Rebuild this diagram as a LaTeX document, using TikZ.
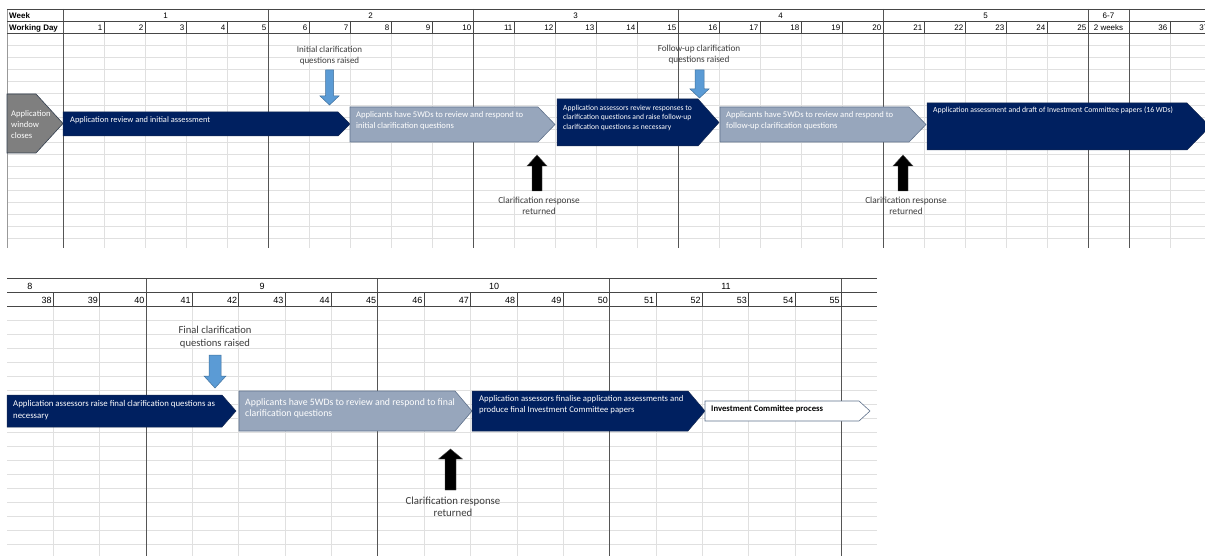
\documentclass[tikz,border=0pt]{standalone}
\usepackage{fontspec}
\setmainfont{Carlito}
\newfontfamily\arialf{Liberation Sans}
\definecolor{navy}{RGB}{0,32,96}
\definecolor{navyedge}{RGB}{20,40,80}
\definecolor{slate}{RGB}{151,166,188}
\definecolor{slateedge}{RGB}{96,114,140}
\definecolor{gchev}{RGB}{127,127,127}
\definecolor{gchevedge}{RGB}{50,62,78}
\definecolor{blueA}{RGB}{91,155,213}
\definecolor{blueedge}{RGB}{65,113,156}
\definecolor{gridc}{RGB}{224,224,224}
\definecolor{weekc}{RGB}{85,85,85}
\definecolor{hdrc}{RGB}{70,70,70}
\definecolor{labc}{RGB}{60,60,60}
\tikzset{
  gridln/.style={draw=gridc, line width=0.7pt},
  weekln/.style={draw=weekc, line width=0.8pt},
  hdrln/.style={draw=hdrc, line width=0.7pt},
  edgeln/.style={draw=gray!80, line width=0.7pt},
  navyshape/.style={fill=navy, draw=navyedge, line width=0.5pt},
  slateshape/.style={fill=slate, draw=slateedge, line width=0.6pt},
  grayshape/.style={fill=gchev, draw=gchevedge, line width=0.6pt},
  whiteshape/.style={fill=white, draw=slateedge, line width=0.6pt},
  bluearr/.style={fill=blueA, draw=blueedge, line width=0.5pt},
  blackarr/.style={fill=black, draw=gray!60!black, line width=0.4pt},
  wtxt/.style={text=white, inner sep=0pt, align=left},
  labtxt/.style={text=labc, inner sep=0pt, align=center, anchor=north},
  hdrtxt/.style={text=black, inner sep=0pt, font=\arialf\fontsize{8}{9.6}\selectfont},
  hdrtxtb/.style={text=black, inner sep=0pt, font=\arialf\fontsize{9}{10.8}\selectfont},
}
% chevron: x1, y1, x2 (body end), tip x, y2, style
\newcommand\chevshape[6]{%
  \filldraw[#6] (#1,#2) -- (#3,#2) -- (#4,{(#2+#5)/2}) -- (#3,#5) -- (#1,#5) -- cycle;}
% block arrow: cx, tail y, head base y, tip y, shaft half width, head half width, style
\newcommand\blkarrow[7]{%
  \filldraw[#7] ({#1-#5},#2) -- ({#1+#5},#2) -- ({#1+#5},#3) -- ({#1+#6},#3) -- (#1,#4)
    -- ({#1-#6},#3) -- ({#1-#5},#3) -- cycle;}
\begin{document}
\begin{tikzpicture}[x=1pt,y=-1pt]
\useasboundingbox (0,0) rectangle (1205,556);
\fill[white] (0,0) rectangle (1205,556);

% ================= TOP TABLE =================
\foreach \k in {1,...,17} \draw[gridln] (7,{33+12.1*\k}) -- (1205,{33+12.1*\k});
\foreach \k in {1,...,28} \draw[gridln] ({63+41*\k},33) -- ({63+41*\k},248);
\draw[edgeln] (7,9) -- (7,248);
\foreach \x in {63,268,473,678,883,1088,1129} \draw[weekln] (\x,9) -- (\x,248);
\foreach \y in {9,21,33} \draw[hdrln] (7,\y) -- (1205,\y);
\foreach \k in {1,...,28} \draw[hdrln] ({63+41*\k},21) -- ({63+41*\k},33);

\node[hdrtxt, font=\arialf\bfseries\fontsize{8}{9.6}\selectfont, anchor=base west] (hwk) at (9,19) {Week};
\node[hdrtxt, font=\arialf\bfseries\fontsize{8}{9.6}\selectfont, anchor=base west] (hwd) at (9,31) {Working Day};
\node[hdrtxt, anchor=base] (w1) at (165.5,19) {1};
\node[hdrtxt, anchor=base] (w2) at (370.5,19) {2};
\node[hdrtxt, anchor=base] (w3) at (575.5,19) {3};
\node[hdrtxt, anchor=base] (w4) at (780.5,19) {4};
\node[hdrtxt, anchor=base] (w5) at (985.5,19) {5};
\node[hdrtxt, anchor=base] (w67) at (1108.5,19) {6-7};
\foreach \d in {1,...,25} \node[hdrtxt, anchor=base east] (d\d) at ({63+41*\d-1.5},31) {\d};
\node[hdrtxt, anchor=base] (d2w) at (1108.5,31) {2 weeks};
\node[hdrtxt, anchor=base east] (d36) at (1167.5,31) {36};
\node[hdrtxt, anchor=base east] (d37) at (1208.5,31) {37};

% shapes top
\chevshape{7}{94}{36}{63}{153}{grayshape}
\node[wtxt, font=\fontsize{8.6}{11}\selectfont, anchor=north west] (t1) at (11,110.4) {Application\\window\\closes};

\chevshape{63}{112}{338}{350}{136}{navyshape}
\node[wtxt, font=\fontsize{8.4}{10}\selectfont, anchor=west] (t2) at (70,120) {Application review and initial assessment};

\chevshape{350}{107}{538}{555}{142}{slateshape}
\node[wtxt, font=\fontsize{8.6}{10.7}\selectfont, anchor=north west] (t3) at (356,111.8) {Applicants have 5WDs to review and respond to\\initial clarification questions};

\chevshape{557}{99}{698}{719}{146}{navyshape}
\node[wtxt, font=\fontsize{7.6}{9.3}\selectfont, anchor=north west] (t4) at (563,105) {Application assessors review responses to\\clarification questions and raise follow-up\\clarification questions as necessary};

\chevshape{720}{107}{909}{926}{142}{slateshape}
\node[wtxt, font=\fontsize{8.6}{10.7}\selectfont, anchor=north west] (t5) at (726,111.8) {Applicants have 5WDs to review and respond to\\follow-up clarification questions};

\chevshape{927}{103}{1187}{1210}{150}{navyshape}
\node[wtxt, font=\fontsize{7.75}{9.5}\selectfont, anchor=west] (t6) at (933,110.7) {Application assessment and draft of Investment Committee papers (16 WDs)};

% markers top
\node[labtxt, font=\fontsize{9}{11.7}\selectfont] (l1) at (329.5,45.6) {Initial clarification\\questions raised};
\blkarrow{329.5}{70}{96}{105}{4}{9.5}{bluearr}
\node[labtxt, font=\fontsize{9.2}{11.7}\selectfont] (l2) at (699,44.6) {Follow-up clarification\\questions raised};
\blkarrow{699.5}{70}{89}{98}{4.5}{9.5}{bluearr}
\blkarrow{537}{191}{166}{155}{5}{10}{blackarr}
\node[labtxt, font=\fontsize{9.3}{11}\selectfont] (l3) at (539,197.3) {Clarification response\\returned};
\blkarrow{903}{191}{166}{155}{5}{10}{blackarr}
\node[labtxt, font=\fontsize{9.3}{11}\selectfont] (l4) at (906,197.3) {Clarification response\\returned};

% ================= BOTTOM TABLE =================
\foreach \k in {1,...,17} \draw[gridln] (7,{306+14*\k}) -- (877,{306+14*\k});
\foreach \k in {1,...,18} \draw[gridln] ({7+46.35*\k},306) -- ({7+46.35*\k},556);
\foreach \k in {3,8,13,18} \draw[weekln] ({7+46.35*\k},278) -- ({7+46.35*\k},556);
\foreach \y in {278,292,306} \draw[hdrln] (7,\y) -- (877,\y);
\foreach \k in {1,...,18} \draw[hdrln] ({7+46.35*\k},292) -- ({7+46.35*\k},306);

\node[hdrtxtb, anchor=base] (w8) at (30,289) {8};
\node[hdrtxtb, anchor=base] (w9) at (262,289) {9};
\node[hdrtxtb, anchor=base] (w10) at (494,289) {10};
\node[hdrtxtb, anchor=base] (w11) at (726,289) {11};
\foreach \d [count=\i] in {38,...,55} \node[hdrtxtb, anchor=base east] (d\d) at ({7+46.35*\i-1.5},303) {\d};

% shapes bottom
\chevshape{7}{395}{222}{236}{427}{navyshape}
\node[wtxt, font=\fontsize{8.8}{11.5}\selectfont, anchor=north west] (t7) at (13,400.5) {Application assessors raise final clarification questions as\\necessary};

\chevshape{239}{391}{455}{472}{431}{slateshape}
\node[wtxt, font=\fontsize{9.8}{11}\selectfont, anchor=north west] (t8) at (245,398.4) {Applicants have 5WDs to review and respond to final\\clarification questions};

\chevshape{472}{391}{688}{705}{431}{navyshape}
\node[wtxt, font=\fontsize{8.7}{11}\selectfont, anchor=north west] (t9) at (479,394.8) {Application assessors finalise application assessments and\\produce final Investment Committee papers};

\chevshape{705}{401}{859}{870}{421}{whiteshape}
\node[inner sep=0pt, text=black, font=\bfseries\fontsize{8.7}{10}\selectfont, anchor=west] (t10) at (711,409.5) {Investment Committee process};

\node[labtxt, font=\fontsize{10.6}{12.7}\selectfont] (l5) at (215,325.8) {Final clarification\\questions raised};
\blkarrow{215}{355}{376}{388}{6}{11}{bluearr}
\blkarrow{450.5}{490}{459}{449}{5.5}{12}{blackarr}
\node[labtxt, font=\fontsize{10.8}{12}\selectfont] (l6) at (453,496.7) {Clarification response\\returned};
\end{tikzpicture}
\end{document}
